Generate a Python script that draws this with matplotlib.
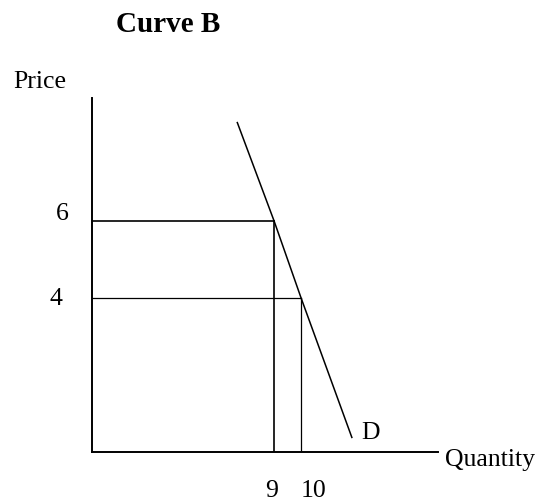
import matplotlib
matplotlib.use("Agg")
import matplotlib.pyplot as plt

plt.rcParams['font.family'] = ['Liberation Serif', 'DejaVu Serif']

# price / quantity pairs
quantities = [9, 10]
prices = [6, 4]

# demand curve D (endpoints plus the two marked points)
demand_q = [7.63, 9, 10, 11.89]
demand_p = [8.57, 6, 4, 0.36]

fig = plt.figure(figsize=(5.4, 5.01), dpi=100)
ax = fig.add_axes([0.1704, 0.0978, 0.6407, 0.7066])
ax.set_xlim(2.26, 15.07)
ax.set_ylim(0, 9.19)

for side in ['top', 'right']:
    ax.spines[side].set_visible(False)
for side in ['left', 'bottom']:
    ax.spines[side].set_linewidth(1.4)
ax.set_xticks([])
ax.set_yticks([])

ax.plot(demand_q, demand_p, color='black', lw=1.1, solid_capstyle='butt')

# dropped lines from each point to the axes
widths = [1.2, 0.9]
for q, p, w in zip(quantities, prices, widths):
    ax.plot([ax.get_xlim()[0], q], [p, p], color='black', lw=w)
    ax.plot([q, q], [0, p], color='black', lw=w)

fs = 18.5
# price labels next to the vertical axis
price_offsets = [(-30, 1), (-36, -7)]
for p, off in zip(prices, price_offsets):
    ax.annotate(str(p), xy=(0, p), xycoords=('axes fraction', 'data'),
                xytext=off, textcoords='offset pixels',
                ha='center', va='baseline', fontsize=fs)

# quantity labels under the horizontal axis
qty_offsets = [(-2, -45), (12, -45)]
for q, off in zip(quantities, qty_offsets):
    ax.annotate(str(q), xy=(q, 0), xycoords=('data', 'axes fraction'),
                xytext=off, textcoords='offset pixels',
                ha='center', va='baseline', fontsize=fs)

ax.annotate('D', xy=(demand_q[-1], demand_p[-1]), xytext=(9, -1),
            textcoords='offset pixels', ha='left', va='baseline', fontsize=fs)
ax.annotate('Quantity', xy=(1, 0), xycoords='axes fraction', xytext=(7, -14),
            textcoords='offset pixels', ha='left', va='baseline', fontsize=fs,
            annotation_clip=False)
ax.annotate('Price', xy=(0, 1), xycoords='axes fraction', xytext=(-52, 10),
            textcoords='offset pixels', ha='center', va='baseline', fontsize=fs,
            annotation_clip=False)

fig.text(168 / 540, 1 - 32 / 501, 'Curve B', ha='center', va='baseline',
         fontsize=21, fontweight='bold')

fig.savefig('out.png', dpi=100)
